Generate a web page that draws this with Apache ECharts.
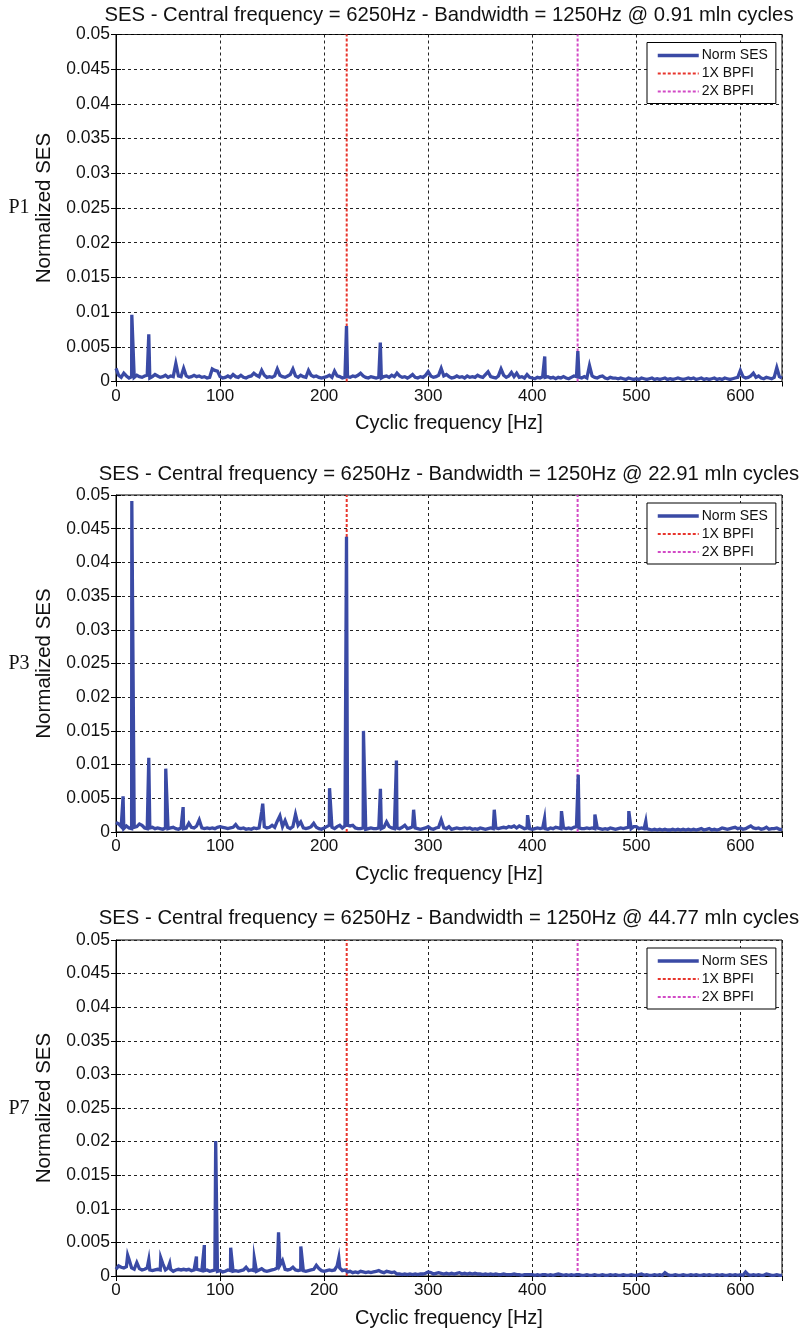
<!DOCTYPE html>
<html>
<head>
<meta charset="utf-8">
<script src="https://cdn.jsdelivr.net/npm/echarts@6/dist/echarts.min.js"></script>
<style>
html,body{margin:0;padding:0;background:#fff;}
#c{width:802px;height:1329px;}
</style>
</head>
<body>
<div id="c"></div>
<script>
// ---------------- DATA ----------------
// Values, in units of 1e-4 (normalized SES).
const UNIT = 1e-4;
const STEP = 2.5;          // Hz between noise-floor samples
const ROW_SPAN = 50;       // Hz covered by each row of a floor table
const BPFI_1X = 221.7;     // Hz
const BPFI_2X = 443.6;     // Hz

const panelTitles = [
  'SES - Central frequency = 6250Hz - Bandwidth = 1250Hz @ 0.91 mln cycles',
  'SES - Central frequency = 6250Hz - Bandwidth = 1250Hz @ 22.91 mln cycles',
  'SES - Central frequency = 6250Hz - Bandwidth = 1250Hz @ 44.77 mln cycles'
];
const panelTags = ['P1', 'P3', 'P7'];
const legendNames = ['Norm SES', '1X BPFI', '2X BPFI'];
const yTickLabels = ['0','0.005','0.01','0.015','0.02','0.025','0.03','0.035','0.04','0.045','0.05'];

// Panel P1 : noise floor (each row = 50 Hz, 2.5 Hz steps)
const floorP1 = [
  [19,9,6,12,8,5,7,6,9,7,6,8,9,5,7,10,8,6,7,9],
  [6,8,7,26,8,7,19,8,6,7,9,7,8,6,7,5,6,18,16,15],
  [7,5,6,8,6,10,7,6,9,6,5,7,8,12,9,7,16,9,6,7],
  [6,8,18,9,7,6,8,10,18,8,6,9,7,6,16,9,7,8,6,5],
  [6,7,9,6,15,8,7,5,6,7,6,8,7,9,12,8,6,5,7,6],
  [5,6,5,7,8,6,9,7,12,8,6,7,5,7,10,6,5,7,6,9],
  [14,8,6,7,9,19,8,10,7,5,6,8,6,7,5,8,6,7,6,9],
  [7,6,10,14,7,6,5,8,18,9,6,8,13,7,12,6,7,5,10,6],
  [5,4,6,5,7,6,7,5,6,4,6,5,7,5,4,6,8,7,6,5],
  [7,5,23,8,6,5,7,8,5,4,6,5,5,4,5,4,3,5,4,3],
  [4,3,5,4,3,4,5,3,4,3,4,5,3,4,3,4,5,4,3,4],
  [5,4,5,3,4,5,3,4,3,4,5,3,4,3,5,4,3,4,5,6],
  [16,7,5,6,8,12,6,8,5,4,6,5,4,6,20,7,5]
];
// Panel P1 : peaks [Hz, value]
const peaksP1 = [[15.2,96],[31.5,68],[221.5,80],[254,56],[412,36],[443.8,44]];

// Panel P3
const floorP3 = [
  [14,12,8,5,9,6,5,7,8,12,10,6,5,6,7,5,6,5,4,6],
  [5,6,7,5,4,6,5,6,13,7,6,9,18,6,5,6,5,6,5,7],
  [8,7,6,5,6,7,11,6,5,6,4,5,4,6,5,6,30,8,6,7],
  [10,7,16,24,8,17,7,5,8,26,10,15,6,5,6,8,13,7,5,4],
  [6,8,10,7,5,8,10,6,9,10,9,10,6,5,5,6,4,5,6,5],
  [5,6,5,7,15,8,6,5,6,5,7,10,5,6,8,6,5,4,5,6],
  [8,5,4,6,7,18,6,5,8,4,5,6,5,5,6,5,6,4,5,4],
  [6,5,4,5,6,5,6,5,6,7,6,8,7,9,6,9,7,5,6,5],
  [4,5,6,5,6,5,4,6,5,7,6,5,6,5,6,5,7,8,6,5],
  [5,6,5,6,5,6,5,4,5,4,6,5,4,5,6,5,6,7,5,8],
  [8,5,6,5,5,4,3,4,3,4,3,4,3,3,4,3,4,3,4,3],
  [4,3,4,3,4,5,3,4,5,3,4,3,4,6,5,4,5,6,7,5],
  [6,4,5,7,9,6,5,6,4,5,7,4,5,5,6,4,4]
];
const peaksP3 = [[6.8,53],[15.2,491],[31.5,110],[47.8,94],[64.5,37],[141,42],[205.2,65],
  [221.5,438],[237.8,150],[254.1,64],[269.5,106],[286,33],[363.5,33],[395.5,25],[411.8,20],
  [428.1,31],[444.2,85],[460.2,26],[492.8,31],[509.1,16]];

// Panel P7
const floorP7 = [
  [10,15,13,12,14,25,12,10,20,11,9,10,12,9,8,9,10,9,18,9],
  [12,10,7,9,10,9,10,9,10,8,9,10,9,8,8,9,7,8,9,7],
  [8,6,7,9,8,7,8,7,8,9,13,8,9,8,7,9,11,8,7,8],
  [9,10,12,16,23,10,9,10,13,9,8,9,8,7,8,9,10,16,11,8],
  [7,8,9,8,9,15,12,8,9,6,7,5,6,5,7,6,5,6,5,6],
  [7,8,6,5,7,6,5,6,3,3,2,3,2,3,2,3,2,3,3,4],
  [6,5,3,4,5,4,3,4,3,4,3,4,5,3,4,3,4,3,4,3],
  [3,2,3,2,3,2,3,2,2,3,2,2,2,3,2,2,1,2,2,2],
  [2,1,2,1,2,2,1,2,1,2,3,2,1,2,1,2,1,2,2,1],
  [1,2,1,1,2,1,1,2,1,1,2,1,2,1,1,2,1,1,2,1],
  [1,2,3,1,2,1,1,2,1,2,1,5,2,1,1,2,1,1,2,1],
  [1,2,1,2,1,1,2,1,2,1,1,2,1,2,1,1,2,1,2,1],
  [2,1,6,2,1,2,1,2,1,1,3,2,1,1,2,1,1]
];
const peaksP7 = [[11.2,31],[31.5,24],[43,27],[51.6,19],[77.3,29],[84.9,46],[95.8,201],
  [110.2,42],[132.9,26],[156.2,65],[177.6,44],[214.1,27]];

// ---------------- BUILD ----------------
function buildSeries(floorRows, peaks) {
  const pts = [];
  floorRows.forEach((row, r) => row.forEach((v, j) => pts.push([r * ROW_SPAN + j * STEP, v * UNIT])));
  peaks.forEach(p => pts.push([p[0], p[1] * UNIT]));
  pts.sort((a, b) => a[0] - b[0]);
  return pts;
}
const panelData = [buildSeries(floorP1, peaksP1), buildSeries(floorP3, peaksP3), buildSeries(floorP7, peaksP7)];

// layout (pixels)
const LEFT = 116, PLOT_W = 666;
const panels = [
  {top: 34.5, h: 347, titleY: 15},
  {top: 495, h: 337, titleY: 474},
  {top: 940, h: 338, titleY: 918}
];
const FONT = '"Liberation Sans", Arial, Helvetica, sans-serif';
const BLUE = '#3a4aa5', RED = '#e8352c', MAG = '#d24ac6';

const grid = [], xAxis = [], yAxis = [], series = [], legend = [], graphic = [];
panels.forEach((p, i) => {
  grid.push({left: LEFT, top: p.top, width: PLOT_W, height: p.h, show: true,
    borderColor: '#000', borderWidth: 1, backgroundColor: '#fff'});
});
panels.forEach((p, i) => {
  xAxis.push({type: 'value', gridIndex: i, min: 0, max: 640, interval: 100,
    name: 'Cyclic frequency [Hz]', nameLocation: 'middle', nameGap: 32,
    nameTextStyle: {fontFamily: FONT, fontSize: 20, color: '#111'},
    axisLine: {show: true, lineStyle: {color: '#000', width: 1}},
    axisTick: {show: true, inside: true, length: 5, lineStyle: {color: '#000'}},
    axisLabel: {fontFamily: FONT, fontSize: 17, color: '#111', margin: 6, showMaxLabel: false},
    splitLine: {show: true, lineStyle: {color: '#222', width: 1, type: [3, 3]}}});
});
panels.forEach((p, i) => {
  xAxis.push({type: 'value', gridIndex: i, position: 'top', min: 0, max: 640, interval: 100,
    axisLine: {show: false}, axisTick: {show: true, inside: true, length: 5, lineStyle: {color: '#000'}},
    axisLabel: {show: false}, splitLine: {show: false}});
});
panels.forEach((p, i) => {
  yAxis.push({type: 'value', gridIndex: i, min: 0, max: 0.05, interval: 0.005,
    name: 'Normalized SES', nameLocation: 'middle', nameGap: 56,
    nameTextStyle: {fontFamily: FONT, fontSize: 20.5, color: '#111'},
    axisLine: {show: true, lineStyle: {color: '#000', width: 1}},
    axisTick: {show: true, inside: true, length: 5, lineStyle: {color: '#000'}},
    axisLabel: {fontFamily: FONT, fontSize: 17.5, color: '#111', margin: 6,
      formatter: v => yTickLabels[Math.round(v / 0.005)]},
    splitLine: {show: true, lineStyle: {color: '#222', width: 1, type: [3, 3]}}});
});
panels.forEach((p, i) => {
  yAxis.push({type: 'value', gridIndex: i, position: 'right', min: 0, max: 0.05, interval: 0.005,
    axisLine: {show: false}, axisTick: {show: true, inside: true, length: 5, lineStyle: {color: '#000'}},
    axisLabel: {show: false}, splitLine: {show: false}});
});
panels.forEach((p, i) => {
  series.push({name: legendNames[1], type: 'line', xAxisIndex: i, yAxisIndex: i, symbol: 'none',
    data: [[BPFI_1X, 0], [BPFI_1X, 0.05]], lineStyle: {color: RED, width: 2, type: [3, 2]},
    itemStyle: {color: RED}, z: 2, animation: false, silent: true});
  series.push({name: legendNames[2], type: 'line', xAxisIndex: i, yAxisIndex: i, symbol: 'none',
    data: [[BPFI_2X, 0], [BPFI_2X, 0.05]], lineStyle: {color: MAG, width: 2, type: [3, 2]},
    itemStyle: {color: MAG}, z: 2, animation: false, silent: true});
  series.push({name: legendNames[0], type: 'line', xAxisIndex: i, yAxisIndex: i, symbol: 'none',
    data: panelData[i], lineStyle: {color: BLUE, width: 3.3, join: 'miter'}, itemStyle: {color: BLUE},
    z: 3, animation: false, silent: true});
  legend.push({
    data: [
      {name: legendNames[0], lineStyle: {width: 3.5}},
      {name: legendNames[1], lineStyle: {width: 2}},
      {name: legendNames[2], lineStyle: {width: 2}}
    ],
    orient: 'vertical', left: 647, top: p.top + 8,
    itemWidth: 41, itemHeight: 14, itemGap: 4, padding: [6, 8, 5, 9],
    itemStyle: {opacity: 0},
    backgroundColor: '#fff', borderColor: '#000', borderWidth: 1, borderRadius: 0,
    selectedMode: false, textStyle: {fontFamily: FONT, fontSize: 14, color: '#111', padding: [0,0,0,-2]}});
  graphic.push({type: 'text', x: LEFT + PLOT_W / 2, y: p.titleY, z: 10,
    style: {text: panelTitles[i], font: '20.3px ' + FONT, fill: '#111', textAlign: 'center', textVerticalAlign: 'middle'}});
  graphic.push({type: 'text', x: 19, y: p.top + p.h / 2, z: 10,
    style: {text: panelTags[i], font: '20px "Liberation Serif", "Times New Roman", serif', fill: '#111',
      textAlign: 'center', textVerticalAlign: 'middle'}});
});

const chart = echarts.init(document.getElementById('c'), null, {renderer: 'canvas'});
chart.setOption({animation: false, backgroundColor: '#fff', grid, xAxis, yAxis, series, legend, graphic});
</script>
</body>
</html>
